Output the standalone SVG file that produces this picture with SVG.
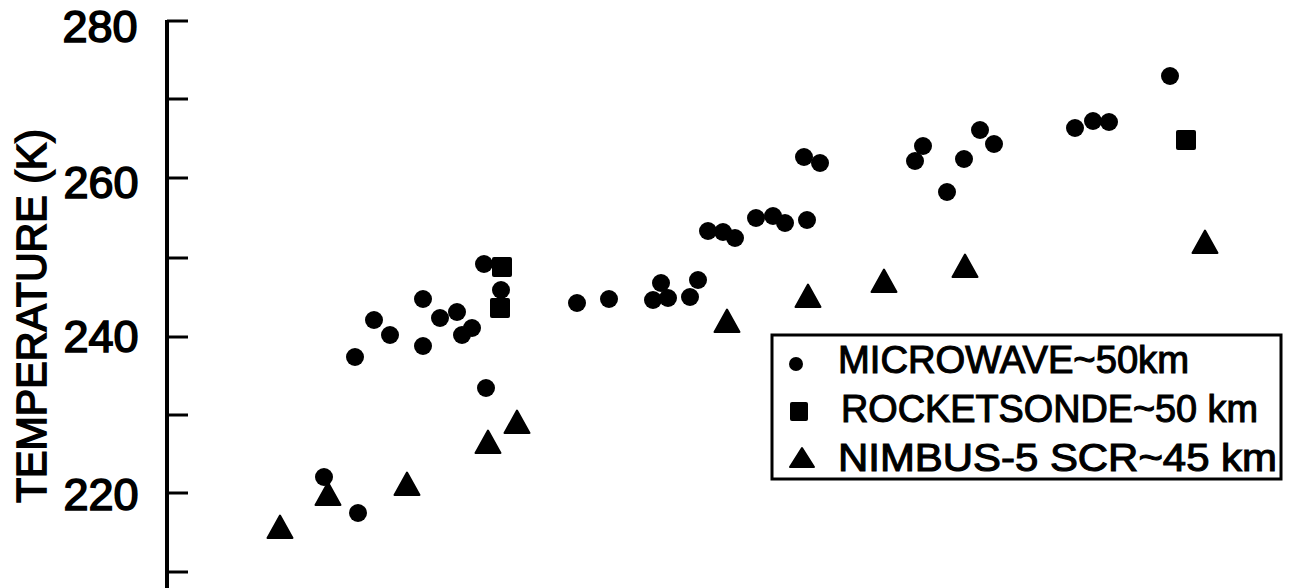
<svg xmlns="http://www.w3.org/2000/svg" xmlns:xlink="http://www.w3.org/1999/xlink" width="1289" height="588" viewBox="0 0 1289 588">
<style>
.t{font-family:"Liberation Sans",Arial,sans-serif;fill:#000;stroke:#000;stroke-width:1.6;}
.tick{font-size:45px;text-anchor:middle;}
.lg{font-size:38px;stroke-width:1.1;}
.ax{stroke:#000;stroke-width:4;fill:none;}
.tk{stroke:#000;stroke-width:3;}
.c{fill:#000;}
</style>
<defs>
<circle id="dot" r="9" class="c"/>
<path id="tri" d="M0,-11.5 L12.5,11 L-12.5,11 Z" fill="#000" stroke="#000" stroke-width="2" stroke-linejoin="round"/>
<rect id="sq" x="-10" y="-10" width="20" height="20" rx="2" fill="#000"/>
</defs>
<rect width="1289" height="588" fill="#fff"/>
<g id="axis">
<line class="ax" x1="167" y1="20" x2="167" y2="588"/>
<g class="tk">
<line x1="167" y1="21" x2="188" y2="21"/>
<line x1="167" y1="99" x2="188" y2="99"/>
<line x1="167" y1="178" x2="188" y2="178"/>
<line x1="167" y1="258" x2="188" y2="258"/>
<line x1="167" y1="337" x2="188" y2="337"/>
<line x1="167" y1="415" x2="188" y2="415"/>
<line x1="167" y1="493" x2="188" y2="493"/>
<line x1="167" y1="572" x2="188" y2="572"/>
</g>
<text class="t tick" x="100" y="42">280</text>
<text class="t tick" x="101" y="198">260</text>
<text class="t tick" x="101" y="352">240</text>
<text class="t tick" x="101" y="510">220</text>
<text class="t" font-size="42" text-anchor="middle" textLength="374" lengthAdjust="spacingAndGlyphs" transform="translate(46,316) rotate(-90)">TEMPERATURE (K)</text>
</g>
<g id="microwave">
<use xlink:href="#dot" x="355" y="357"/>
<use xlink:href="#dot" x="374" y="320"/>
<use xlink:href="#dot" x="390" y="335"/>
<use xlink:href="#dot" x="423" y="299"/>
<use xlink:href="#dot" x="423" y="346"/>
<use xlink:href="#dot" x="440" y="318"/>
<use xlink:href="#dot" x="457" y="312"/>
<use xlink:href="#dot" x="462" y="335"/>
<use xlink:href="#dot" x="472" y="328"/>
<use xlink:href="#dot" x="484" y="264"/>
<use xlink:href="#dot" x="501" y="290"/>
<use xlink:href="#dot" x="486" y="388"/>
<use xlink:href="#dot" x="324" y="477"/>
<use xlink:href="#dot" x="358" y="513"/>
<use xlink:href="#dot" x="577" y="303"/>
<use xlink:href="#dot" x="609" y="299"/>
<use xlink:href="#dot" x="653" y="300"/>
<use xlink:href="#dot" x="661" y="283"/>
<use xlink:href="#dot" x="668" y="298"/>
<use xlink:href="#dot" x="690" y="297"/>
<use xlink:href="#dot" x="698" y="280"/>
<use xlink:href="#dot" x="708" y="231"/>
<use xlink:href="#dot" x="723" y="232"/>
<use xlink:href="#dot" x="735" y="238"/>
<use xlink:href="#dot" x="756" y="218"/>
<use xlink:href="#dot" x="773" y="216"/>
<use xlink:href="#dot" x="785" y="223"/>
<use xlink:href="#dot" x="807" y="220"/>
<use xlink:href="#dot" x="804" y="157"/>
<use xlink:href="#dot" x="820" y="163"/>
<use xlink:href="#dot" x="915" y="161"/>
<use xlink:href="#dot" x="923" y="146"/>
<use xlink:href="#dot" x="947" y="192"/>
<use xlink:href="#dot" x="964" y="159"/>
<use xlink:href="#dot" x="980" y="130"/>
<use xlink:href="#dot" x="994" y="144"/>
<use xlink:href="#dot" x="1075" y="128"/>
<use xlink:href="#dot" x="1093" y="121"/>
<use xlink:href="#dot" x="1109" y="122"/>
<use xlink:href="#dot" x="1170" y="76"/>
</g>
<g id="rocketsonde">
<use xlink:href="#sq" x="502" y="267"/>
<use xlink:href="#sq" x="500" y="308"/>
<use xlink:href="#sq" x="1186" y="140"/>
</g>
<g id="nimbus">
<use xlink:href="#tri" x="280" y="527"/>
<use xlink:href="#tri" x="328" y="494"/>
<use xlink:href="#tri" x="407" y="484"/>
<use xlink:href="#tri" x="488" y="442"/>
<use xlink:href="#tri" x="517" y="422"/>
<use xlink:href="#tri" x="727" y="321"/>
<use xlink:href="#tri" x="808" y="296"/>
<use xlink:href="#tri" x="884" y="281"/>
<use xlink:href="#tri" x="965" y="266"/>
<use xlink:href="#tri" x="1205" y="242"/>
</g>
<g id="legend">
<rect x="772" y="335" width="509" height="144" fill="#fff" stroke="#000" stroke-width="3"/>
<circle cx="796" cy="364" r="7" fill="#000"/>
<rect x="790" y="402" width="18" height="19" rx="2" fill="#000"/>
<path d="M802,448 L814,467 L790,467 Z" fill="#000" stroke="#000" stroke-width="2" stroke-linejoin="round"/>
<text class="t lg" x="838" y="373" textLength="351" lengthAdjust="spacingAndGlyphs">MICROWAVE~50km</text>
<text class="t lg" x="841" y="422" textLength="417" lengthAdjust="spacingAndGlyphs">ROCKETSONDE~50 km</text>
<text class="t lg" x="838" y="471" textLength="439" lengthAdjust="spacingAndGlyphs">NIMBUS-5 SCR~45 km</text>
</g>
</svg>
